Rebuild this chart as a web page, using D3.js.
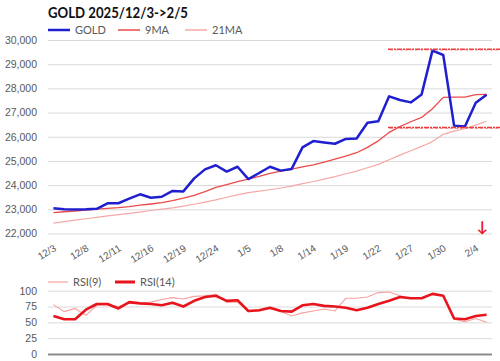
<!DOCTYPE html>
<html>
<head>
<meta charset="utf-8">
<script src="https://cdn.jsdelivr.net/npm/d3@7"></script>
<style>
  body { margin: 0; background: #fff; }
  svg { display: block; font-family: Lato, "Open Sans", sans-serif; }
  .tick text { fill: #595959; }
</style>
</head>
<body>
<svg id="chart" width="500" height="361"></svg>
<script>
// trading days, every 3rd one is labelled
const dates = ["12/3","12/4","12/5","12/8","12/9","12/10","12/11","12/12","12/15","12/16",
  "12/17","12/18","12/19","12/22","12/23","12/24","12/26","12/31","1/5","1/6",
  "1/7","1/8","1/9","1/12","1/14","1/15","1/16","1/19","1/20","1/21",
  "1/22","1/23","1/26","1/27","1/28","1/29","1/30","2/2","2/3","2/4","2/5"]

const gold = [23040,23000,22990,23000,23020,23250,23250,23440,23620,23480,
  23520,23760,23740,24280,24650,24820,24560,24760,24250,24500,
  24760,24600,24670,25560,25820,25760,25710,25910,25930,26580,
  26640,27670,27520,27420,27750,29560,29380,26460,26420,27410,27740]

const ma9 = [22860,22900,22930,22970,23010,23040,23070,23110,23170,23220,
  23280,23360,23460,23580,23730,23910,24020,24140,24250,24360,
  24490,24580,24660,24750,24840,24950,25070,25200,25340,25560,
  25830,26180,26420,26620,26800,27160,27630,27640,27640,27740,27750]

const ma21 = [22430,22490,22550,22610,22670,22730,22780,22830,22880,22950,
  23010,23060,23130,23210,23300,23390,23500,23600,23690,23750,
  23810,23880,23960,24060,24150,24250,24350,24470,24580,24720,
  24860,25050,25240,25420,25600,25800,26100,26230,26330,26480,26640]

const rsi9 = [78,67,72,61,77,78,75,80,80,82,
  86,89,87,91,92,94,82,82,67,68,
  72,67,60,65,68,71,68,88,88,90,
  97,98,92,88,88,96,92,55,51,56,50]

const rsi14 = [60,55,55,70,79,79,72,82,80,79,
  77,81,75,84,90,92,84,85,68,69,
  73,68,67,77,79,76,75,73,69,73,
  79,84,90,88,88,95,92,56,55,60,62]

// support / resistance marks drawn on the picture
const levels = [29620, 26380]

const yTicks = [22000,23000,24000,25000,26000,27000,28000,29000,30000]
const rsiTicks = [0,25,50,75,100]

const svg = d3.select("#chart")
const grey = "#595959"
const left = 48, right = 492

// x scale shared by both panels
const x = d3.scalePoint().domain(d3.range(dates.length)).range([left, right]).padding(0.5)
const y = d3.scaleLinear().domain([22000, 30000]).range([233.5, 40])
const yr = d3.scaleLinear().domain([0, 100]).range([354, 290.7])

// Title
svg.append("text")
  .attr("x", left).attr("y", 18)
  .style("font-size", "15px").style("font-weight", "bold").attr("fill", "#111")
  .attr("textLength", 140).attr("lengthAdjust", "spacingAndGlyphs")
  .text("GOLD 2025/12/3->2/5")

// Legend, top panel
const legTop = [
  {name: "GOLD", color: "#1f1fd0", w: 2.5, x: 48},
  {name: "9MA", color: "#ec4a4a", w: 1.5, x: 118},
  {name: "21MA", color: "#f6a8a8", w: 1.5, x: 185}
]
legTop.forEach(d => {
  svg.append("line").attr("x1", d.x).attr("x2", d.x + 22).attr("y1", 30).attr("y2", 30)
    .attr("stroke", d.color).attr("stroke-width", d.w)
  svg.append("text").attr("x", d.x + 27).attr("y", 34)
    .style("font-size", "11px").attr("fill", grey).text(d.name)
})

// Grid + y axis, top panel
const yAxis = svg.append("g")
  .attr("transform", "translate(" + left + ",0)")
  .call(d3.axisLeft(y).tickValues(yTicks).tickFormat(d3.format(",")).tickSize(-(right - left)).tickPadding(11))
yAxis.select(".domain").remove()
yAxis.selectAll(".tick line").attr("stroke", "#d9d9d9")
yAxis.selectAll(".tick text").style("font-size", "10.5px")

// x axis labels
const xAxis = svg.append("g")
  .attr("transform", "translate(0,240)")
  .call(d3.axisBottom(x).tickValues(d3.range(0, dates.length, 3)).tickFormat(i => dates[i]).tickSize(0))
xAxis.select(".domain").remove()
xAxis.selectAll(".tick text")
  .style("font-size", "10px")
  .attr("text-anchor", "end")
  .attr("dy", "0")
  .attr("y", 0)
  .attr("transform", "translate(3,10) rotate(-32)")

const line = (yy) => d3.line().x((d, i) => x(i)).y(d => yy(d))

const series = [
  {vals: ma21, color: "#f6a8a8", w: 1.2},
  {vals: ma9, color: "#ec4a4a", w: 1.3},
  {vals: gold, color: "#1f1fd0", w: 2.5}
]
series.forEach(s => {
  svg.append("path").datum(s.vals)
    .attr("fill", "none").attr("stroke", s.color).attr("stroke-width", s.w)
    .attr("stroke-linejoin", "round")
    .attr("d", line(y))
})

// rough red level marks
levels.forEach(v => {
  svg.append("line").attr("x1", 388).attr("x2", 500).attr("y1", y(v)).attr("y2", y(v))
    .attr("stroke", "#e83a3a").attr("stroke-width", 1.5).attr("stroke-dasharray", "5,1,2,1")
  svg.append("line").attr("x1", 390).attr("x2", 500).attr("y1", y(v) + 0.8).attr("y2", y(v) + 0.8)
    .attr("stroke", "#f07070").attr("stroke-width", 0.8).attr("stroke-dasharray", "3,2")
})

// red down arrow
svg.append("text").attr("x", 482).attr("y", 232)
  .attr("text-anchor", "middle").style("font-size", "15px").style("font-weight", "bold")
  .attr("fill", "#e8141c").text("↓")

// RSI legend
const legRsi = [
  {name: "RSI(9)", color: "#f6a0a0", w: 1.2, x: 48},
  {name: "RSI(14)", color: "#e8141c", w: 3, x: 115}
]
legRsi.forEach(d => {
  svg.append("line").attr("x1", d.x).attr("x2", d.x + 20).attr("y1", 282).attr("y2", 282)
    .attr("stroke", d.color).attr("stroke-width", d.w)
  svg.append("text").attr("x", d.x + 25).attr("y", 286)
    .style("font-size", "11px").attr("fill", grey).text(d.name)
})

// RSI grid
const rAxis = svg.append("g")
  .attr("transform", "translate(" + left + ",0)")
  .call(d3.axisLeft(yr).tickValues(rsiTicks).tickSize(-(right - left)).tickPadding(11))
rAxis.select(".domain").remove()
rAxis.selectAll(".tick line").attr("stroke", d => d === 0 ? "#8c8c8c" : "#d9d9d9")
  .attr("stroke-width", d => d === 0 ? 2 : 1)
rAxis.selectAll(".tick text").style("font-size", "10.5px")

svg.append("path").datum(rsi9)
  .attr("fill", "none").attr("stroke", "#f6a0a0").attr("stroke-width", 1.1)
  .attr("d", line(yr))
svg.append("path").datum(rsi14)
  .attr("fill", "none").attr("stroke", "#e8141c").attr("stroke-width", 2.6)
  .attr("stroke-linejoin", "round")
  .attr("d", line(yr))
</script>
</body>
</html>
